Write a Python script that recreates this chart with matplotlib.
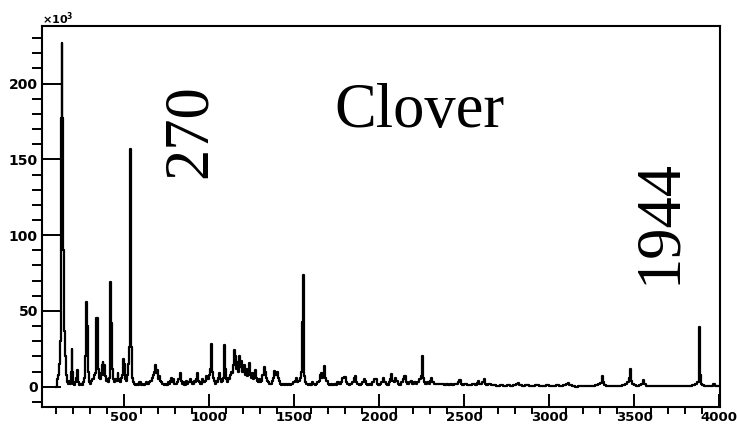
# gamma spectrum of the clover detector
# counts are in units of 10^3

import numpy as np
import matplotlib.pyplot as plt
from matplotlib.ticker import MultipleLocator

# channel and counts (x10^3) along the trace
chan = [100, 108, 115, 122, 128, 132, 136, 140, 144, 148, 152, 156, 160, 166, 172,
        178, 184, 190, 194, 198, 204, 210, 216, 222, 228, 233, 240, 248, 256, 264,
        270, 276, 281, 285, 289, 295, 302, 310, 318, 326, 332, 337, 341, 345, 349,
        354, 360, 366, 372, 377, 382, 386, 390, 396, 402, 408, 414, 418, 422, 426,
        430, 436, 442, 448, 454, 460, 465, 470, 476, 482, 488, 494, 500, 505, 510,
        516, 522, 528, 534, 538, 542, 546, 550, 556, 562, 570, 578, 586, 594, 602,
        610, 618, 626, 634, 642, 650, 658, 666, 672, 678, 684, 690, 696, 702, 708,
        714, 722, 730, 738, 746, 754, 762, 768, 774, 780, 786, 792, 800, 808, 816,
        824, 830, 836, 842, 850, 858, 866, 874, 882, 890, 898, 906, 914, 922, 928,
        934, 940, 946, 954, 962, 970, 978, 986, 994, 1002, 1008, 1014, 1018, 1022, 1028,
        1034, 1040, 1046, 1052, 1058, 1064, 1070, 1076, 1082, 1088, 1094, 1098, 1104, 1110, 1116,
        1122, 1128, 1134, 1140, 1146, 1152, 1158, 1164, 1170, 1176, 1182, 1188, 1194, 1200, 1206,
        1212, 1218, 1224, 1230, 1236, 1242, 1248, 1254, 1260, 1266, 1272, 1278, 1284, 1290, 1296,
        1302, 1310, 1318, 1324, 1330, 1336, 1342, 1348, 1356, 1364, 1372, 1380, 1388, 1394, 1400,
        1406, 1412, 1420, 1428, 1436, 1444, 1452, 1460, 1470, 1480, 1490, 1500, 1508, 1516, 1522,
        1530, 1538, 1546, 1551, 1555, 1559, 1564, 1570, 1576, 1584, 1592, 1600, 1610, 1618, 1626,
        1634, 1642, 1650, 1658, 1664, 1670, 1676, 1682, 1688, 1694, 1700, 1710, 1720, 1730, 1740,
        1750, 1760, 1770, 1780, 1790, 1800, 1808, 1816, 1826, 1836, 1846, 1856, 1862, 1868, 1876,
        1886, 1896, 1906, 1914, 1920, 1928, 1936, 1946, 1956, 1966, 1976, 1984, 1992, 2000, 2010,
        2018, 2026, 2034, 2042, 2052, 2062, 2070, 2076, 2082, 2090, 2098, 2106, 2114, 2124, 2134,
        2144, 2152, 2160, 2170, 2180, 2190, 2200, 2210, 2220, 2230, 2240, 2250, 2256, 2260, 2268,
        2276, 2286, 2296, 2304, 2310, 2316, 2326, 2336, 2346, 2356, 2366, 2376, 2390, 2400, 2412,
        2424, 2436, 2448, 2460, 2470, 2476, 2484, 2494, 2510, 2524, 2540, 2556, 2570, 2578, 2584,
        2592, 2602, 2612, 2618, 2626, 2636, 2650, 2666, 2680, 2700, 2720, 2740, 2760, 2780, 2800,
        2812, 2820, 2830, 2850, 2870, 2890, 2910, 2930, 2950, 2970, 2990, 3010, 3030, 3050, 3070,
        3090, 3108, 3114, 3124, 3140, 3160, 3180, 3200, 3220, 3240, 3260, 3280, 3296, 3306, 3312,
        3318, 3326, 3340, 3360, 3380, 3400, 3420, 3440, 3456, 3466, 3474, 3480, 3486, 3494, 3506,
        3520, 3536, 3546, 3554, 3562, 3574, 3590, 3610, 3630, 3650, 3670, 3690, 3710, 3730, 3750,
        3770, 3790, 3810, 3830, 3850, 3866, 3876, 3882, 3886, 3892, 3898, 3906, 3920, 3940, 3960,
        3972, 3980, 3995]

counts = [0, 5, 8, 15, 30, 177, 227, 177, 90, 90, 37, 20, 8, 3, 2,
          4, 2, 10, 25, 10, 2, 1, 3, 6, 11, 3, 1, 2, 1, 3,
          6, 20, 56, 40, 10, 3, 2, 4, 5, 8, 9, 45, 30, 45, 12,
          6, 5, 9, 14, 16, 8, 14, 7, 4, 5, 3, 6, 25, 69, 42,
          12, 5, 3, 5, 4, 4, 9, 5, 4, 3, 6, 8, 18, 15, 5,
          4, 8, 15, 26, 157, 45, 26, 6, 3, 2, 1, 2, 1, 3, 1,
          2, 1, 2, 3, 2, 3, 4, 6, 8, 10, 14, 9, 11, 5, 7,
          4, 3, 2, 1, 2, 1, 3, 2, 4, 6, 3, 5, 2, 2, 3,
          5, 9, 4, 2, 3, 1, 4, 2, 3, 5, 3, 2, 4, 3, 5,
          9, 4, 3, 2, 5, 3, 4, 7, 5, 8, 12, 28, 28, 10, 6,
          4, 2, 4, 3, 6, 9, 5, 3, 4, 6, 27.5, 12, 5, 3, 6,
          5, 8, 10, 9, 14, 24, 20, 12, 16, 10, 20, 13, 17, 10, 14,
          8, 12, 7, 9, 15.5, 8, 6, 9, 5, 7, 11, 6, 4, 3, 5,
          3, 4, 8, 13, 10, 6, 4, 3, 2, 2, 4, 6, 10.5, 8, 10,
          6, 4, 2, 1, 2, 1, 2, 1, 2, 1, 2, 3, 4, 6, 3,
          4, 6, 10, 43, 73.7, 12, 7, 3, 2, 1, 2, 1, 3, 2, 1,
          2, 3, 4, 8, 9, 6, 8, 13.6, 6, 4, 2, 1, 2, 1, 2,
          1, 3, 2, 3, 6, 6.4, 3, 2, 1, 2, 3, 6, 7, 3, 2,
          1, 2, 3, 5, 4, 2, 1, 2, 1, 3, 5, 5, 2, 1, 2,
          3, 6, 3, 2, 1, 3, 5, 8.4, 4, 3, 6, 4, 2, 1, 3,
          5, 7, 3, 2, 3, 4, 2, 3, 2, 3, 5, 7, 20, 6, 3,
          2, 3, 2, 4, 5.7, 3, 2, 1.5, 2, 1.5, 2, 1.5, 1, 1.5, 1,
          1.5, 1, 1.5, 2, 3, 4.4, 2, 1, 1.5, 1, 1, 1.5, 1, 2.5, 4,
          2, 1.5, 3, 5, 2, 1, 1.5, 1, 1, 0.5, 1, 0.5, 0.8, 0.5, 1,
          2, 2.2, 1, 0.5, 0.8, 0.5, 0.5, 0.8, 0.5, 0.5, 0.8, 0.5, 0.5, 0.8, 0.5,
          1, 2, 2.2, 1, 0.5, 0, 0.5, 0.5, 0.3, 0.5, 0.5, 0.8, 1.5, 2.5, 7,
          3, 1, 0.5, 0.5, 0.3, 0.5, 0.5, 1, 2, 3, 6, 11.5, 4, 2, 1,
          0.5, 1, 2, 4.4, 2, 0.5, 0.3, 0.5, 0.3, 0.2, 0.3, 0.2, 0.3, 0.2, 0.3,
          0.2, 0.3, 0.3, 0.4, 0.8, 1.5, 3, 7.7, 39.6, 7.7, 2, 1, 0.5, 0.3, 0.5,
          1.5, 0.3, 0.2]

x_ticks = [500, 1000, 1500, 2000, 2500, 3000, 3500, 4000]
y_ticks = [0, 50, 100, 150, 200]

W, H = 737, 426
fig = plt.figure(figsize=(W / 100, H / 100), dpi=100)
# frame in pixels: x 42..720, y 26..407
ax = fig.add_axes([42 / W, (H - 407) / H, (720 - 42) / W, (407 - 26) / H])

# histogram look, like ROOT draws it
ax.plot(chan, counts, color='black', lw=1.6, drawstyle='steps-mid')

ax.set_xlim(18, 4005)
ax.set_ylim(-13.4, 238)

ax.set_xticks(x_ticks)
ax.set_yticks(y_ticks)
ax.xaxis.set_minor_locator(MultipleLocator(100))
ax.yaxis.set_minor_locator(MultipleLocator(10))

for s in ax.spines.values():
    s.set_linewidth(1.5)

ax.tick_params(direction='in', top=False, right=False, width=1.4,
               labelsize=10, colors='black')
ax.tick_params(axis='x', which='major', length=9.5, pad=3, labelsize=9.5)
ax.tick_params(axis='x', which='minor', length=5, width=1.4)
ax.tick_params(axis='y', which='major', length=13.7, pad=3)
ax.tick_params(axis='y', which='minor', length=7, width=1.4)
for lab in ax.get_xticklabels() + ax.get_yticklabels():
    lab.set_fontweight('bold')

# exponent of the y axis
fig.text(42 / W, (H - 24) / H, r'$\mathbf{\times 10^{3}}$', fontsize=8,
         ha='left', va='baseline')

# labels in serif
serif = 'Liberation Serif'
fig.text(419 / W, (H - 127) / H, 'Clover', family=serif, fontsize=45,
         ha='center', va='baseline')
fig.text(206 / W, (H - 131) / H, '270', family=serif, fontsize=45,
         rotation=90, rotation_mode='anchor', ha='center', va='baseline')
fig.text(675 / W, (H - 222) / H, '1944', family=serif, fontsize=45,
         rotation=90, rotation_mode='anchor', ha='center', va='baseline')

plt.savefig('out.png', dpi=100)
